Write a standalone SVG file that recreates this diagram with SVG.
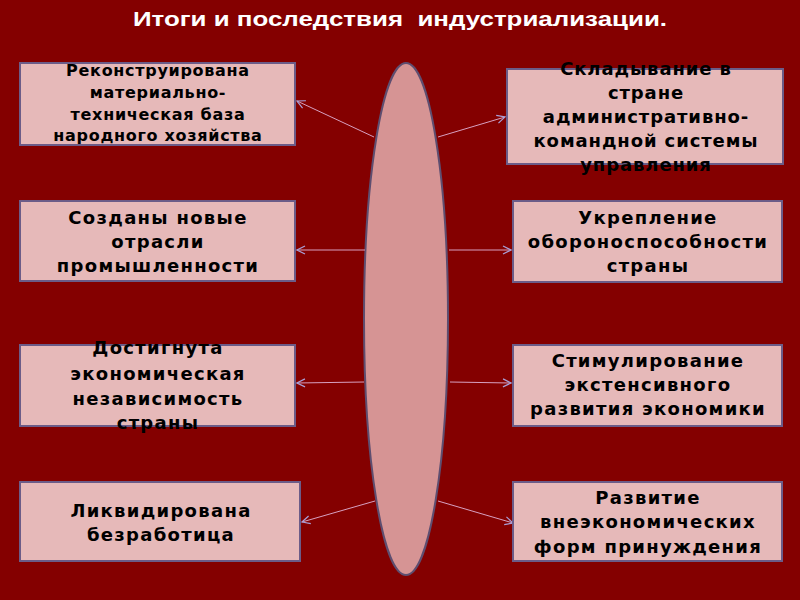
<svg xmlns="http://www.w3.org/2000/svg" width="800" height="600" viewBox="0 0 800 600">
<style>
.box{fill:#e6b9b9;stroke:#6b5c88;stroke-width:2}
.t{font-family:"DejaVu Sans",Verdana,sans-serif;font-weight:bold;font-size:18px;letter-spacing:1.3px;fill:#000;text-anchor:middle}
.s1{font-size:16px;letter-spacing:0.7px}
.s2{letter-spacing:0.9px}
.title{font-family:"Liberation Sans",Arial,sans-serif;font-weight:bold;font-size:21px;fill:#fff;text-anchor:middle;white-space:pre}
.c{stroke:#d7a0c0;stroke-width:1;fill:none;marker-end:url(#a)}
</style>
<defs>
<marker id="a" viewBox="0 0 10 10" refX="9" refY="5" markerWidth="10" markerHeight="10" markerUnits="userSpaceOnUse" orient="auto">
<path d="M1,1 L9,5 L1,9" fill="none" stroke="#a8a0d8" stroke-width="1.2"/>
</marker>
</defs>
<rect width="800" height="600" fill="#840000"/>
<text class="title" x="400" y="26" textLength="534" lengthAdjust="spacingAndGlyphs" xml:space="preserve">Итоги и последствия  индустриализации.</text>
<g id="center">
<ellipse cx="406" cy="319" rx="42" ry="256" fill="#d69494" stroke="#5e4e70" stroke-width="2"/>
</g>
<g id="connectors">
<path class="c" d="M374,137 L297,101"/>
<path class="c" d="M438,137 L505,117"/>
<path class="c" d="M365,250 L297,250"/>
<path class="c" d="M449,250 L511,250"/>
<path class="c" d="M364,382 L297,383"/>
<path class="c" d="M450,382 L511,383"/>
<path class="c" d="M375,501 L302,522"/>
<path class="c" d="M438,501 L513,523"/>
</g>
<g id="n1">
<rect class="box" x="20" y="63" width="275" height="82"/>
<text class="t s1"><tspan x="158" y="76">Реконструирована</tspan><tspan x="158" y="98">материально-</tspan><tspan x="158" y="120">техническая база</tspan><tspan x="158" y="141">народного хозяйства</tspan></text>
</g>
<g id="n2">
<rect class="box" x="507" y="69" width="276" height="95"/>
<text class="t s2"><tspan x="646" y="75">Складывание в</tspan><tspan x="646" y="99">стране</tspan><tspan x="646" y="123">административно-</tspan><tspan x="646" y="147">командной системы</tspan><tspan x="646" y="171">управления</tspan></text>
</g>
<g id="n3">
<rect class="box" x="20" y="201" width="275" height="80"/>
<text class="t"><tspan x="158" y="224">Созданы новые</tspan><tspan x="158" y="248">отрасли</tspan><tspan x="158" y="272">промышленности</tspan></text>
</g>
<g id="n4">
<rect class="box" x="513" y="201" width="269" height="81"/>
<text class="t"><tspan x="648" y="224">Укрепление</tspan><tspan x="648" y="248">обороноспособности</tspan><tspan x="648" y="272">страны</tspan></text>
</g>
<g id="n5">
<rect class="box" x="20" y="345" width="275" height="81"/>
<text class="t"><tspan x="158" y="354">Достигнута</tspan><tspan x="158" y="380">экономическая</tspan><tspan x="158" y="405">независимость</tspan><tspan x="158" y="429">страны</tspan></text>
</g>
<g id="n6">
<rect class="box" x="513" y="345" width="269" height="81"/>
<text class="t"><tspan x="648" y="367">Стимулирование</tspan><tspan x="648" y="391">экстенсивного</tspan><tspan x="648" y="415">развития экономики</tspan></text>
</g>
<g id="n7">
<rect class="box" x="20" y="482" width="280" height="79"/>
<text class="t"><tspan x="161" y="517">Ликвидирована</tspan><tspan x="161" y="541">безработица</tspan></text>
</g>
<g id="n8">
<rect class="box" x="513" y="482" width="269" height="79"/>
<text class="t"><tspan x="648" y="504">Развитие</tspan><tspan x="648" y="528">внеэкономических</tspan><tspan x="648" y="553">форм принуждения</tspan></text>
</g>
</svg>
